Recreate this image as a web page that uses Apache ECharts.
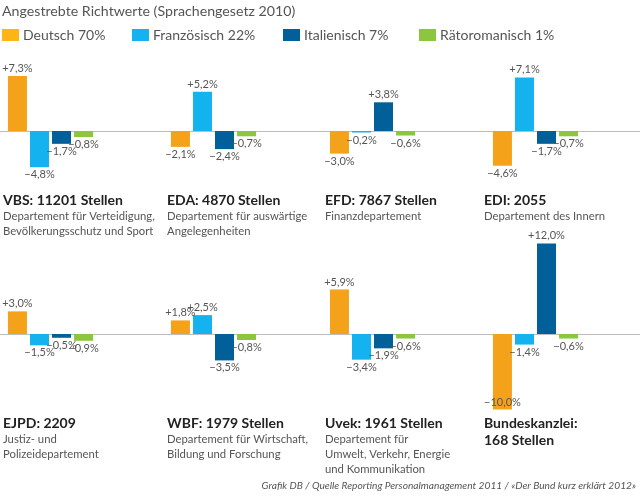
<!DOCTYPE html>
<html>
<head>
<meta charset="utf-8">
<script src="https://cdn.jsdelivr.net/npm/echarts@6/dist/echarts.min.js"></script>
<style>html,body{margin:0;padding:0;background:#fff}#c{width:640px;height:497px}</style>
</head>
<body>
<div id="c"></div>
<script>
var seriesNames = ['Deutsch 70%', 'Französisch 22%', 'Italienisch 7%', 'Rätoromanisch 1%'];
var deutsch = [7.3, -2.1, -3.0, -4.6, 3.0, 1.8, 5.9, -10.0];
var franz   = [-4.8, 5.2, -0.2, 7.1, -1.5, 2.5, -3.4, -1.4];
var ital    = [-1.7, -2.4, 3.8, -1.7, -0.5, -3.5, -1.9, 12.0];
var raeto   = [-0.8, -0.7, -0.6, -0.7, -0.9, -0.8, -0.6, -0.6];
var heads = ['VBS: 11201 Stellen', 'EDA: 4870 Stellen', 'EFD: 7867 Stellen', 'EDI: 2055',
             'EJPD: 2209', 'WBF: 1979 Stellen', 'Uvek: 1961 Stellen', 'Bundeskanzlei:\n168 Stellen'];
var subs = ['Departement für Verteidigung,\nBevölkerungsschutz und Sport',
            'Departement für auswärtige\nAngelegenheiten',
            'Finanzdepartement',
            'Departement des Innern',
            'Justiz- und\nPolizeidepartement',
            'Departement für Wirtschaft,\nBildung und Forschung',
            'Departement für\nUmwelt, Verkehr, Energie\nund Kommunikation',
            ''];

var colors = ['#F5A21B', '#14B2EE', '#015F99', '#8CC63F'];
var legendColors = ['#FDB515', '#14B2EE', '#015F99', '#8CC63F'];
var allValues = [deutsch, franz, ital, raeto];

var FONT = 'Lato';
var k = 7.55;
var rows = [{zero: 131, min: -9, max: 8}, {zero: 334, min: -11, max: 13}];
var colLeft = [6.5, 169.5, 328.5, 491.5];
var textLeft = [3, 167, 325, 484];
var textTop = [192, 415];

function fmt(v) {
  return (v > 0 ? '+' : '\u2212') + Math.abs(v).toFixed(1).replace('.', ',') + '%';
}

var grids = [], xAxes = [], yAxes = [], series = [], titles = [];

titles.push({
  text: 'Angestrebte Richtwerte (Sprachengesetz 2010)',
  left: 2, top: 4, padding: 0,
  textStyle: {fontFamily: FONT, fontSize: 14.2, fontWeight: 'normal', color: '#555'}
});
titles.push({
  text: 'Grafik DB / Quelle Reporting Personalmanagement 2011 / «Der Bund kurz erklärt 2012»',
  right: 4, top: 481, padding: 0,
  textStyle: {fontFamily: FONT, fontSize: 10.2, fontStyle: 'italic', fontWeight: 'normal', color: '#555'}
});

for (var i = 0; i < 8; i++) {
  var r = rows[Math.floor(i / 4)];
  var c = i % 4;
  grids.push({left: colLeft[c], width: 88, top: r.zero - r.max * k, height: (r.max - r.min) * k});
  xAxes.push({type: 'category', gridIndex: i, data: [''], show: false});
  yAxes.push({type: 'value', gridIndex: i, min: r.min, max: r.max, show: false});
  for (var s = 0; s < 4; s++) {
    var v = allValues[s][i];
    var pos = v >= 0 ? 'top' : (v <= r.min + 1.5 ? 'insideBottom' : 'bottom');
    series.push({
      type: 'bar', name: seriesNames[s], xAxisIndex: i, yAxisIndex: i,
      barWidth: 19, barGap: '16%',
      itemStyle: {color: colors[s]},
      data: [{value: v, label: {position: pos}}],
      label: {show: true, distance: 2, formatter: function (p) { return fmt(p.value); },
              fontFamily: FONT, fontSize: 11, color: '#555'},
      animation: false
    });
  }
  titles.push({
    text: heads[i], subtext: subs[i],
    left: textLeft[c], top: textTop[Math.floor(i / 4)], padding: 0, itemGap: 0,
    textStyle: {fontFamily: FONT, fontSize: 14, fontWeight: 'bold', color: '#222', lineHeight: 17},
    subtextStyle: {fontFamily: FONT, fontSize: 11.3, color: '#555', lineHeight: 15}
  });
}
// full-width zero lines
for (var rr = 0; rr < 2; rr++) {
  var R = rows[rr];
  var gi = grids.length;
  grids.push({left: 0, right: 0, top: R.zero - R.max * k, height: (R.max - R.min) * k});
  xAxes.push({type: 'category', gridIndex: gi, data: [''], axisTick: {show: false}, axisLabel: {show: false},
              axisLine: {show: true, onZero: true, lineStyle: {color: '#bdbdbd', width: 1}}, z: 0});
  yAxes.push({type: 'value', gridIndex: gi, min: R.min, max: R.max, show: false});
}

var legendLefts = [2, 132, 283, 419];
var legends = seriesNames.map(function (n, j) {
  return {
    data: [{name: n, itemStyle: {color: legendColors[j]}}],
    left: legendLefts[j], top: 28, padding: 0, icon: 'rect', itemWidth: 17, itemHeight: 12, itemGap: 4,
    selectedMode: false,
    textStyle: {fontFamily: FONT, fontSize: 14, color: '#555', padding: [0, 0, 0, -1]}
  };
});

var chart = echarts.init(document.getElementById('c'));
chart.setOption({
  animation: false,
  title: titles,
  legend: legends,
  grid: grids,
  xAxis: xAxes,
  yAxis: yAxes,
  series: series
});
</script>
</body>
</html>
